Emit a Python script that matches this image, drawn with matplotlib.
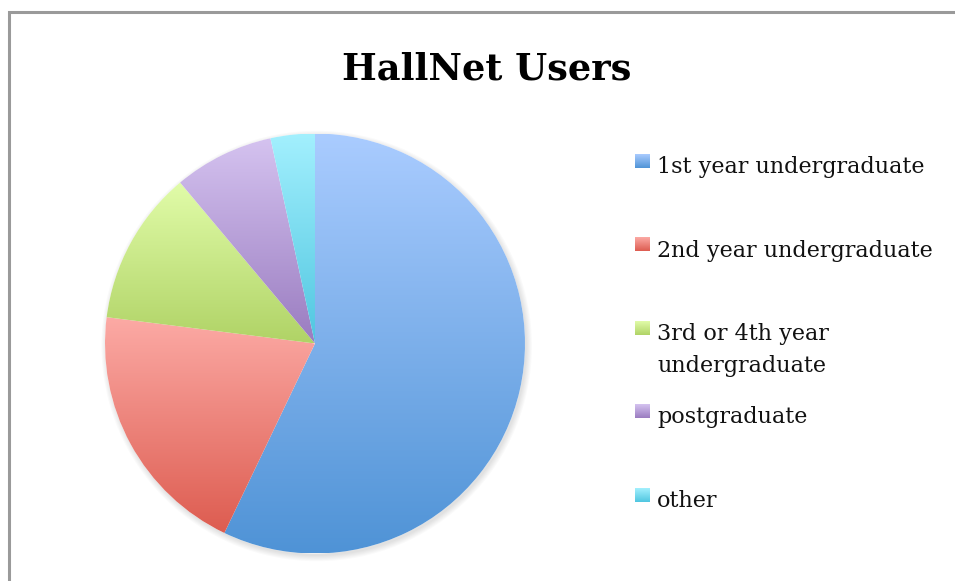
import numpy as np
import matplotlib
matplotlib.use("Agg")
import matplotlib.pyplot as plt
from matplotlib.colors import LinearSegmentedColormap
from matplotlib.patches import Circle

labels = ["1st year undergraduate", "2nd year undergraduate",
          "3rd or 4th year\nundergraduate", "postgraduate", "other"]
shares = [57.1, 19.9, 11.9, 7.7, 3.4]
tops = ["#aaccff", "#fcaaa5", "#e1fca9", "#d5c3f0", "#a3f0fe"]
bottoms = ["#4f93d6", "#dd5c50", "#b0d366", "#9a7cc0", "#50c6e0"]

W, H = 955, 581
fig = plt.figure(figsize=(W / 100, H / 100), dpi=100)

# background axes in pixel coords (y downwards)
bg = fig.add_axes([0, 0, 1, 1])
bg.axis("off")
bg.plot([9, 9, 970], [600, 12, 12], color="#9a9a9a", lw=2.2,
        solid_joinstyle="miter")

grad = np.linspace(0, 1, 256).reshape(-1, 1)

# pie
cx, cy, r = 315, 343.5, 210
ax = fig.add_axes([(cx - r) / W, (H - cy - r) / H, 2 * r / W, 2 * r / H])
wedges, _ = ax.pie(shares, startangle=90, counterclock=False,
                   radius=1, wedgeprops=dict(linewidth=0))

# soft shadow
for k in range(6):
    ax.add_patch(Circle((0.008, -0.012), 1.0 + k * 0.005, color="k",
                        alpha=0.018, lw=0, zorder=0, clip_on=False))
ax.add_patch(Circle((0, 0), 1.0, color="white", lw=0, zorder=0.5))

for w, c1, c2 in zip(wedges, tops, bottoms):
    th = np.radians(np.linspace(w.theta1, w.theta2, 200))
    ys = np.concatenate([[0], np.sin(th)])
    cmap = LinearSegmentedColormap.from_list("g", [c2, c1])
    im = ax.imshow(grad, cmap=cmap, origin="lower", aspect="auto",
                   extent=[-1, 1, ys.min(), ys.max()], zorder=2)
    im.set_clip_path(w)
    w.set_facecolor("none")
ax.set_xlim(-1, 1)
ax.set_ylim(-1, 1)
ax.set_aspect("auto")
ax.axis("off")

# title
bg.text(487, 80, "HallNet Users", ha="center", va="baseline",
        fontsize=26.5, fontweight="bold", family="DejaVu Serif")

# legend
for i, (lab, c1, c2) in enumerate(zip(labels, tops, bottoms)):
    yc = 161 + i * 83.5
    cmap = LinearSegmentedColormap.from_list("g", [c1, c2])
    bg.imshow(grad, cmap=cmap, origin="upper", aspect="auto",
              extent=[635, 650, yc + 7, yc - 7])
    for k, line in enumerate(lab.split("\n")):
        bg.text(657, yc + 12 + k * 32, line, va="baseline", ha="left",
                fontsize=16, family="DejaVu Serif", color="#111111")

bg.set_xlim(0, W)
bg.set_ylim(H, 0)

fig.savefig("out.png", dpi=100)
